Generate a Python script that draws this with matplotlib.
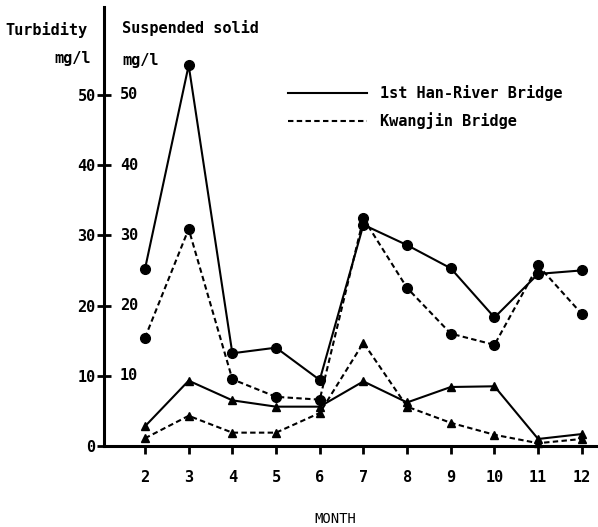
import numpy as np
import matplotlib.pyplot as plt
from matplotlib.lines import Line2D
import matplotlib.transforms as mtransforms

months = [2, 3, 4, 5, 6, 7, 8, 9, 10, 11, 12]

# suspended solid (circles)
ss_han = [25.2, 54.2, 13.2, 14.0, 9.4, 31.5, 28.6, 25.3, 18.3, 24.5, 25.0]
ss_kwang = [15.4, 30.9, 9.5, 7.0, 6.6, 32.4, 22.5, 16.0, 14.4, 25.7, 18.8]
# turbidity (triangles)
tb_han = [2.8, 9.3, 6.5, 5.6, 5.6, 9.2, 6.2, 8.4, 8.5, 1.0, 1.7]
tb_kwang = [1.1, 4.3, 1.9, 1.9, 4.7, 14.7, 5.6, 3.3, 1.6, 0.4, 1.0]

left_ticks = [0, 10, 20, 30, 40, 50]
right_ticks = [10, 20, 30, 40, 50]

FONT = 'DejaVu Sans Mono'
plt.rcParams['font.family'] = FONT
plt.rcParams['font.weight'] = 'bold'

fig = plt.figure(figsize=(5.98, 5.27), dpi=100)
ax = fig.add_axes([104/598, 81/527, 494/598, 439/527])

dash = (0, (2.6, 1.6))
ax.plot(months, ss_han, '-', color='black', lw=1.5, marker='o', ms=7, clip_on=False)
ax.plot(months, ss_kwang, color='black', ls=dash, lw=1.5, marker='o', ms=7, clip_on=False)
ax.plot(months, tb_han, '-', color='black', lw=1.5, marker='^', ms=6, clip_on=False)
ax.plot(months, tb_kwang, color='black', ls=dash, lw=1.5, marker='^', ms=6, clip_on=False)

ax.set_xlim(1.062, 12.37)
ax.set_ylim(0, 62.5)

ax.spines['top'].set_visible(False)
ax.spines['right'].set_visible(False)
ax.spines['left'].set_linewidth(2.2)
ax.spines['bottom'].set_linewidth(2.2)

ax.set_xticks(months)
ax.set_xticklabels([str(m) for m in months], fontsize=11)
ax.tick_params(axis='x', direction='out', length=6, width=2, pad=11)
ax.set_yticks(left_ticks)
ax.set_yticklabels([str(t) for t in left_ticks], fontsize=11)
ax.tick_params(axis='y', direction='inout', length=10, width=2, pad=1)

# second set of labels (suspended solid) just right of the axis
trans = mtransforms.blended_transform_factory(ax.transAxes, ax.transData)
for t in right_ticks:
    ax.text(0.032, t, str(t), transform=trans, ha='left', va='center', fontsize=11)

ax.set_xlabel('MONTH', fontsize=10)
ax.xaxis.set_label_coords(0.468, -0.150)

fig.text(5/598, 1 - 30/527, 'Turbidity', ha='left', va='center', fontsize=11)
fig.text(122/598, 1 - 28/527, 'Suspended solid', ha='left', va='center', fontsize=11)
fig.text(91/598, 1 - 59/527, 'mg/l', ha='right', va='center', fontsize=11)
fig.text(122/598, 1 - 60/527, 'mg/l', ha='left', va='center', fontsize=11)

handles = [Line2D([], [], color='black', lw=1.5, ls='-'),
           Line2D([], [], color='black', lw=1.5, ls=dash)]
ax.legend(handles, ['1st Han-River Bridge', 'Kwangjin Bridge'],
          loc='upper left', bbox_to_anchor=(288/598, 1 - 85/527),
          bbox_transform=fig.transFigure, frameon=False, fontsize=11,
          handlelength=5.2, handletextpad=0.8, borderpad=0, borderaxespad=0,
          labelspacing=0.75)

fig.savefig('out.png', dpi=100)
